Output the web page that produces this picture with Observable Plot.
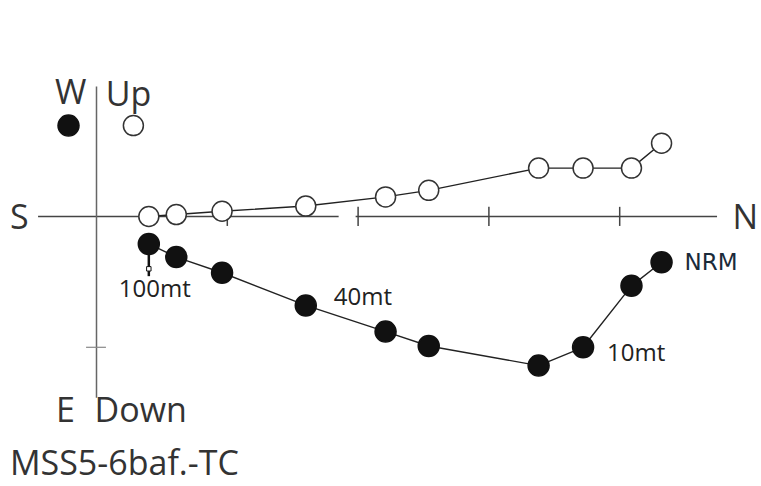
<!DOCTYPE html>
<html>
<head>
<meta charset="utf-8">
<script src="https://cdn.jsdelivr.net/npm/d3@7"></script>
<script src="https://cdn.jsdelivr.net/npm/@observablehq/plot@0.6"></script>
<style>
  html, body { margin: 0; padding: 0; background: #fff; }
  #caption { font-family: "Open Sans", sans-serif; font-size: 34px; color: #333; margin: 2px 0 0 10px; line-height: 40px; }
</style>
</head>
<body>
<div id="chart"></div>
<div id="caption">MSS5-6baf.-TC</div>
<script>
// Demagnetisation steps (NRM first), north component (tick units)
const north = [4.32, 4.09, 3.72, 3.38, 2.54, 2.21, 1.60, 0.96, 0.61, 0.40];
// Up component (open circles, vertical projection)
const up    = [0.56, 0.37, 0.37, 0.37, 0.20, 0.15, 0.08, 0.04, 0.015, 0.0];
// West component (filled circles, horizontal projection; negative = East)
const west  = [-0.35, -0.53, -1.00, -1.14, -0.99, -0.88, -0.68, -0.43, -0.31, -0.21];
// Step labels
const stepLabels = ["NRM", "", "10mt", "", "", "", "40mt", "", "", "100mt"];
const axisTicks = [1, 2, 3, 4];

const steps = north.map((n, i) => ({n, up: up[i], w: west[i], label: stepLabels[i]}));

const W = 761, H = 440;
const ox = 96, oy = 216, unit = 130.8;
const xDomain = [(0 - ox) / unit, (W - ox) / unit];
const yDomain = [(oy - H) / unit, oy / unit];

const font = "'Open Sans', sans-serif";
const labelColor = "#333";
const big = 34;

const chart = Plot.plot({
  width: W, height: H,
  margin: 0,
  x: {domain: xDomain, axis: null},
  y: {domain: yDomain, axis: null},
  style: {fontFamily: font, background: "#fff"},
  marks: [
    // horizontal (S-N) axis with a small break
    Plot.ruleY([0], {x1: -0.443, x2: 1.855, stroke: "#444", strokeWidth: 1.5}),
    Plot.ruleY([0], {x1: 1.985, x2: 4.748, stroke: "#444", strokeWidth: 1.5}),
    Plot.ruleX(axisTicks, {x: d => d, y1: 0.07, y2: -0.076, stroke: "#444", strokeWidth: 1.5}),
    // vertical (W/Up - E/Down) axis
    Plot.ruleX([0], {y1: 0.99, y2: -1.39, stroke: "#666", strokeWidth: 1.5}),
    Plot.ruleY([-1], {x1: -0.076, x2: 0.076, stroke: "#888", strokeWidth: 1.2}),
    // axis labels
    Plot.text(["W"], {x: -0.198, y: 0.94, text: d => d, fontSize: big, fill: labelColor, textAnchor: "middle"}),
    Plot.text(["Up"], {x: 0.07, y: 0.93, text: d => d, fontSize: big, fill: labelColor, textAnchor: "start"}),
    Plot.text(["S"], {x: -0.59, y: -0.015, text: d => d, fontSize: big, fill: labelColor, textAnchor: "middle"}),
    Plot.text(["N"], {x: 4.96, y: -0.015, text: d => d, fontSize: big, fill: labelColor, textAnchor: "middle"}),
    Plot.text(["E"], {x: -0.31, y: -1.49, text: d => d, fontSize: big, fill: labelColor, textAnchor: "start"}),
    Plot.text(["Down"], {x: -0.015, y: -1.49, text: d => d, fontSize: big, fill: labelColor, textAnchor: "start"}),
    // legend symbols
    Plot.dot([{x: -0.214, y: 0.695}], {x: "x", y: "y", r: 10.5, fill: "#111", stroke: "#111"}),
    Plot.dot([{x: 0.282, y: 0.695}], {x: "x", y: "y", r: 10, fill: "#fff", stroke: "#333", strokeWidth: 1.5}),
    // pointer for the 100mt step
    Plot.ruleX(steps.filter(d => d.label === "100mt"), {x: "n", y1: "w", y2: d => d.w - 0.25, stroke: "#111", strokeWidth: 2.5}),
    Plot.dot(steps.filter(d => d.label === "100mt"), {x: "n", y: d => d.w - 0.19, symbol: "square", r: 2.5, fill: "#fff", stroke: "#111", strokeWidth: 1}),
    // projections
    Plot.line(steps, {x: "n", y: "up", stroke: "#222", strokeWidth: 1.4}),
    Plot.line(steps, {x: "n", y: "w", stroke: "#222", strokeWidth: 1.4}),
    Plot.dot(steps, {x: "n", y: "up", r: 10, fill: "#fff", stroke: "#333", strokeWidth: 1.5}),
    Plot.dot(steps, {x: "n", y: "w", r: 10.5, fill: "#111", stroke: "#111"}),
    // step labels
    Plot.text(steps.filter(d => d.label === "NRM"), {x: "n", y: "w", text: "label", dx: 23, dy: 0, fontSize: 23, fontFamily: "'DejaVu Sans', sans-serif", fill: "#1a2a3a", textAnchor: "start"}),
    Plot.text(steps.filter(d => d.label === "10mt"), {x: "n", y: "w", text: "label", dx: 24, dy: 6, fontSize: 24, fill: "#222", textAnchor: "start"}),
    Plot.text(steps.filter(d => d.label === "40mt"), {x: "n", y: "w", text: "label", dx: 28, dy: -8, fontSize: 24, fill: "#222", textAnchor: "start"}),
    Plot.text(steps.filter(d => d.label === "100mt"), {x: "n", y: "w", text: "label", dx: -30, dy: 45, fontSize: 24, fill: "#222", textAnchor: "start"})
  ]
});
document.getElementById("chart").appendChild(chart);
</script>
</body>
</html>
